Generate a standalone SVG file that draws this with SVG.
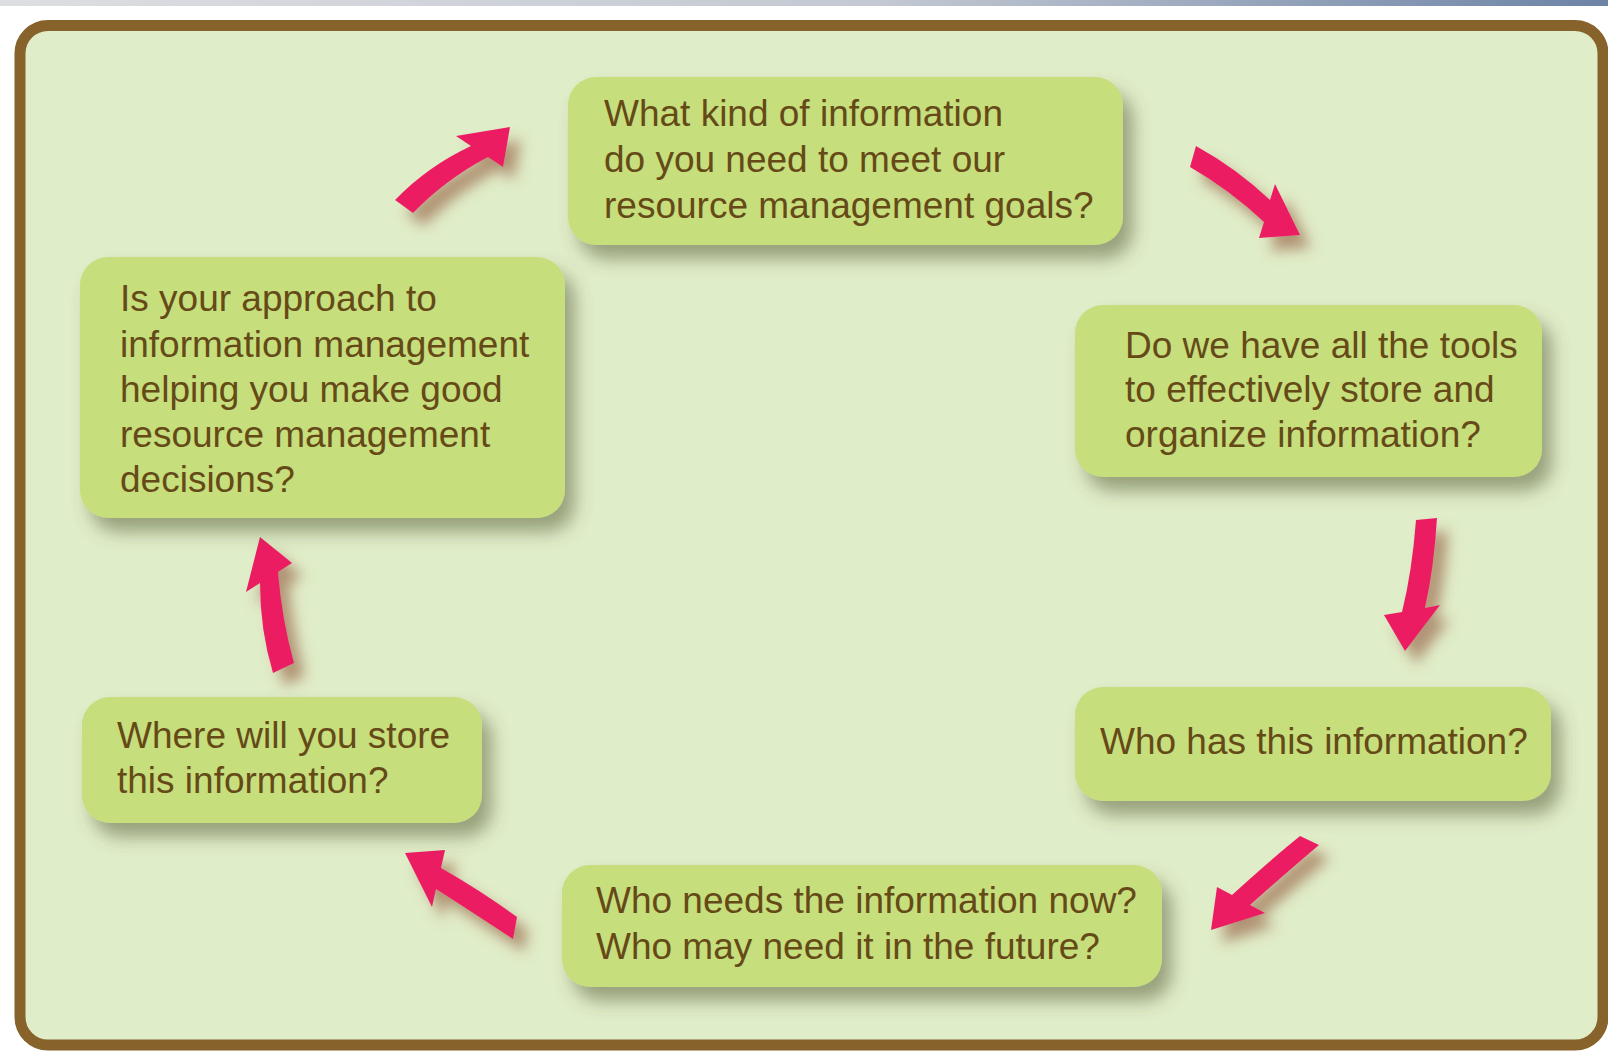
<svg xmlns="http://www.w3.org/2000/svg" width="1608" height="1055" viewBox="0 0 1608 1055">
<defs>
<linearGradient id="topbar" x1="0" y1="0" x2="1" y2="0">
<stop offset="0" stop-color="#dddee1"/>
<stop offset="0.55" stop-color="#c3c8d2"/>
<stop offset="1" stop-color="#6c83a6"/>
</linearGradient>
<filter id="boxShadow" x="-15%" y="-20%" width="140%" height="160%">
<feGaussianBlur in="SourceAlpha" stdDeviation="9"/>
<feOffset dx="10" dy="14" result="b"/>
<feFlood flood-color="#4f5530" flood-opacity="0.5"/>
<feComposite in2="b" operator="in" result="s"/>
<feMerge><feMergeNode in="s"/><feMergeNode in="SourceGraphic"/></feMerge>
</filter>
<filter id="arrowShadow" x="-50%" y="-50%" width="220%" height="220%">
<feGaussianBlur in="SourceAlpha" stdDeviation="7"/>
<feOffset dx="11" dy="13" result="b"/>
<feFlood flood-color="#8a4a2e" flood-opacity="0.55"/>
<feComposite in2="b" operator="in" result="s"/>
<feMerge><feMergeNode in="s"/><feMergeNode in="SourceGraphic"/></feMerge>
</filter>
</defs>
<style>
.box { fill: #c6de7c; filter: url(#boxShadow); }
.lbl { font-family: "Liberation Sans", Arial, sans-serif; font-size: 37px; fill: #654a18; }
.arrow { fill: #ec1f64; filter: url(#arrowShadow); }
</style>
<rect x="0" y="0" width="1608" height="1055" fill="#ffffff"/>
<rect x="0" y="0" width="1608" height="6" fill="url(#topbar)"/>
<rect id="frame" x="20" y="25.5" width="1583" height="1019.5" rx="28" ry="28" fill="#e0edc9" stroke="#87622a" stroke-width="11"/>

<g id="connectors">
<path class="arrow" d="M395,200 Q428,166 471,146 L456,136 L510,127 L503,167 L488,157 Q446,179 413,213 Z"/>
<path class="arrow" d="M1196,146 Q1236,168 1270,200 L1275,184 L1300,235 L1259,238 L1264,222 Q1230,190 1190,167 Z"/>
<path class="arrow" d="M1416,520 Q1412,572 1402,612 L1384,615 L1405,651 L1440,605 L1425,608 Q1434,568 1437,518 Z"/>
<path class="arrow" d="M1300,836 Q1268,862 1232,895 L1217,887 L1211,930 L1265,913 L1250,905 Q1287,872 1319,845 Z"/>
<path class="arrow" d="M517,917 Q480,890 441,868 L445,850 L405,853 L432,907 L436,889 Q472,912 513,939 Z"/>
<path class="arrow" d="M273,673 Q260,630 260,583 L246,592 L260,537 L292,563 L278,572 Q282,620 294,663 Z"/>
</g>

<g id="node-what-kind">
<rect class="box" x="568" y="77" width="555" height="168" rx="28" ry="28"/>
<text class="lbl" x="604" y="126">What kind of information</text>
<text class="lbl" x="604" y="172">do you need to meet our</text>
<text class="lbl" x="604" y="218">resource management goals?</text>
</g>

<g id="node-tools">
<rect class="box" x="1075" y="305" width="467" height="172" rx="28" ry="28"/>
<text class="lbl" x="1125" y="358">Do we have all the tools</text>
<text class="lbl" x="1125" y="402">to effectively store and</text>
<text class="lbl" x="1125" y="447">organize information?</text>
</g>

<g id="node-who-has">
<rect class="box" x="1075" y="687" width="476" height="114" rx="28" ry="28"/>
<text class="lbl" x="1100" y="754">Who has this information?</text>
</g>

<g id="node-who-needs">
<rect class="box" x="562" y="865" width="600" height="122" rx="28" ry="28"/>
<text class="lbl" x="596" y="913">Who needs the information now?</text>
<text class="lbl" x="596" y="959">Who may need it in the future?</text>
</g>

<g id="node-where">
<rect class="box" x="82" y="697" width="400" height="126" rx="28" ry="28"/>
<text class="lbl" x="117" y="748">Where will you store</text>
<text class="lbl" x="117" y="793">this information?</text>
</g>

<g id="node-approach">
<rect class="box" x="80" y="257" width="485" height="261" rx="28" ry="28"/>
<text class="lbl" x="120" y="311">Is your approach to</text>
<text class="lbl" x="120" y="357">information management</text>
<text class="lbl" x="120" y="402">helping you make good</text>
<text class="lbl" x="120" y="447">resource management</text>
<text class="lbl" x="120" y="492">decisions?</text>
</g>
</svg>
